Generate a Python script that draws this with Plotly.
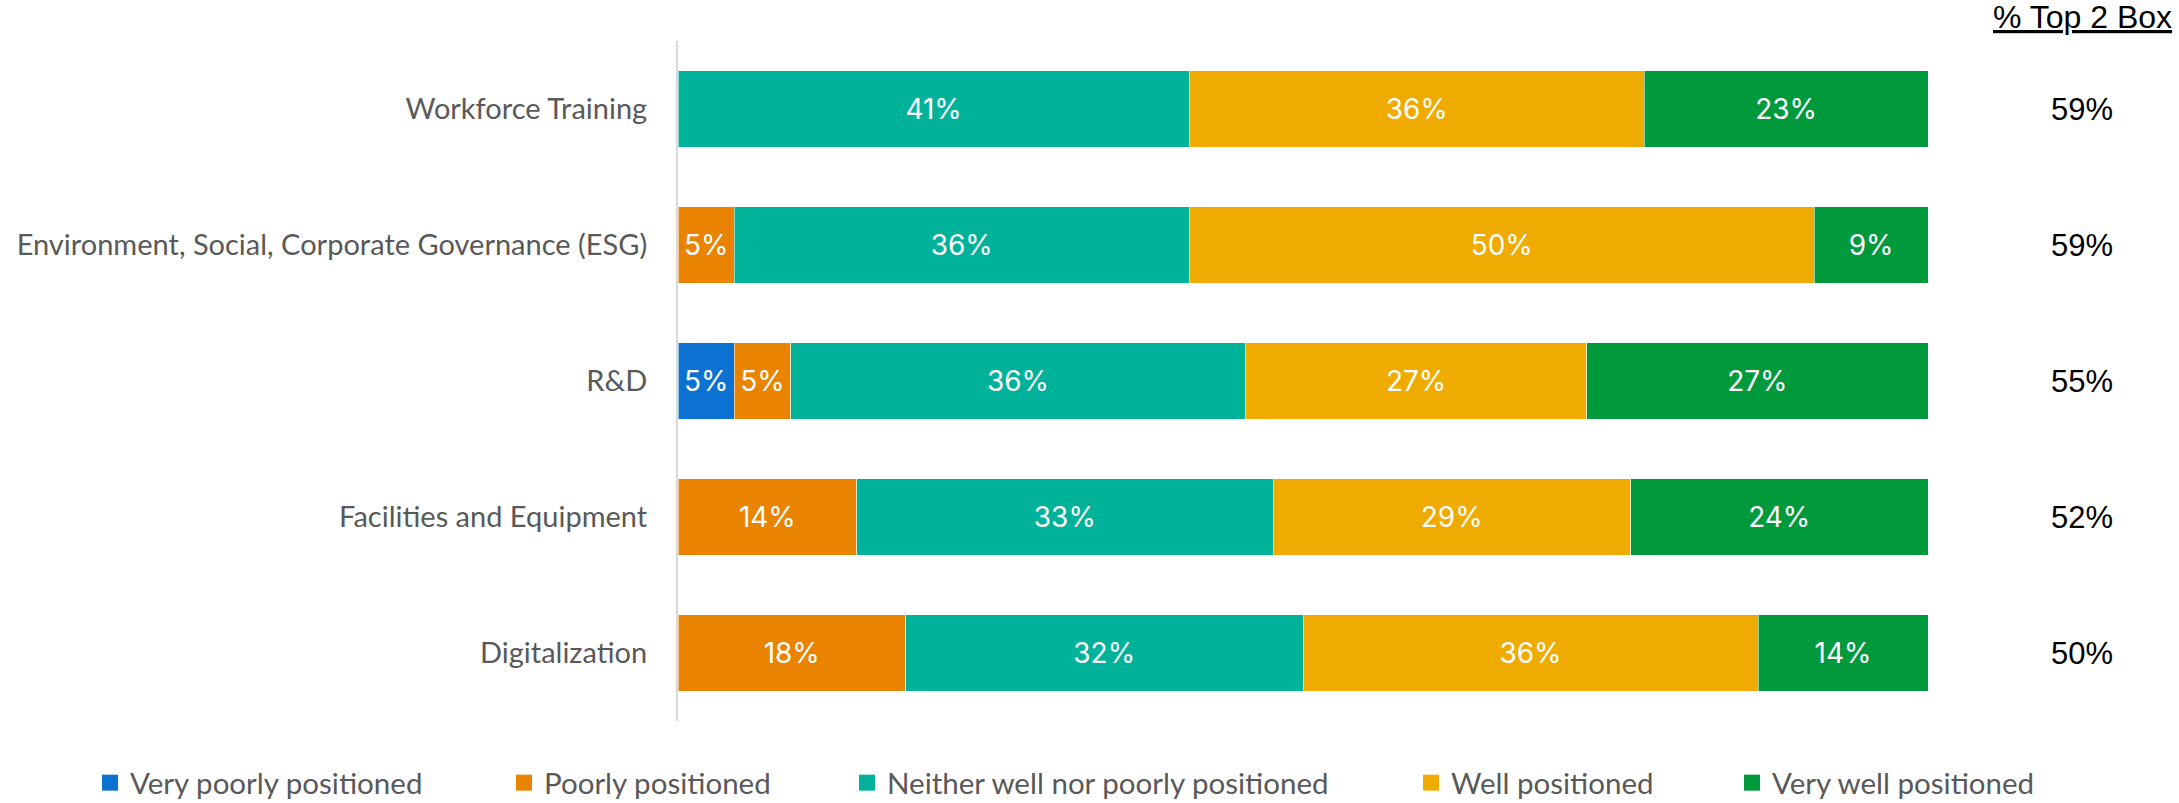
import plotly.graph_objects as go

categories = ["Workforce Training",
              "Environment, Social, Corporate Governance (ESG)",
              "R&D",
              "Facilities and Equipment",
              "Digitalization"]

very_poorly = [None, None, 4.5, None, None]
poorly = [None, 4.5, 4.5, 14.3, 18.2]
neither = [40.9, 36.4, 36.4, 33.3, 31.8]
well = [36.4, 50.0, 27.3, 28.6, 36.4]
very_well = [22.7, 9.1, 27.3, 23.8, 13.6]

top2_labels = ["59%", "59%", "55%", "52%", "50%"]

series = [
    ("Very poorly positioned", very_poorly, "#0B72D4"),
    ("Poorly positioned", poorly, "#EA8300"),
    ("Neither well nor poorly positioned", neither, "#00B29A"),
    ("Well positioned", well, "#F0AB00"),
    ("Very well positioned", very_well, "#009A3D"),
]

# plot area geometry (pixels)
W, H = 2179, 803
L, R, T, B = 678, 251, 41, 82
PW = W - L - R
PH = H - T - B

legend_px = [90, 504, 847, 1411, 1732]

fig = go.Figure()
layout_legends = {}
for i, (name, vals, col) in enumerate(series):
    lg = "legend" if i == 0 else f"legend{i+1}"
    fig.add_trace(go.Bar(
        y=categories, x=vals, name=name, orientation="h",
        marker=dict(color=col, line=dict(color="rgba(255,255,255,0.55)", width=1)),
        texttemplate="%{x:.0f}%", textposition="inside", insidetextanchor="middle",
        textangle=0, constraintext="none",
        textfont=dict(family="Inter, Roboto, sans-serif", size=28, color="white"),
        showlegend=False, hoverinfo="skip",
    ))
    # legend entry (square swatch)
    fig.add_trace(go.Scatter(
        x=[None], y=[None], mode="markers", name=name,
        marker=dict(symbol="square", size=16, color=col),
        legend=lg, hoverinfo="skip", showlegend=True,
    ))
    layout_legends[lg] = dict(
        orientation="h", x=(legend_px[i] - L) / PW, xanchor="left",
        y=(T + PH - 809) / PH, yanchor="bottom",
        font=dict(family="Lato, sans-serif", size=29.5, color="#595959"),
        bgcolor="rgba(0,0,0,0)", borderwidth=0,
    )

annotations = [dict(
    text="<u>% Top 2 Box</u>", xref="paper", yref="paper",
    x=(2082 - L) / PW, y=(T + PH - 17) / PH, xanchor="center", yanchor="middle",
    showarrow=False, font=dict(family="Liberation Sans, Arial, sans-serif", size=32, color="#000000"),
)]
for cat, lab in zip(categories, top2_labels):
    annotations.append(dict(
        text=lab, xref="paper", yref="y", x=(2082 - L) / PW, y=cat,
        xanchor="center", yanchor="middle", showarrow=False,
        font=dict(family="Liberation Sans, Arial, sans-serif", size=31, color="#000000"),
    ))

fig.update_layout(
    width=W, height=H,
    margin=dict(l=L, r=R, t=T, b=B, pad=0, autoexpand=False),
    barmode="stack", bargap=0.44,
    plot_bgcolor="white", paper_bgcolor="white",
    showlegend=True,
    annotations=annotations,
    xaxis=dict(range=[0, 100], visible=False, fixedrange=True),
    yaxis=dict(autorange="reversed", showline=True, linecolor="#D9D9D9", linewidth=2,
               showgrid=False, zeroline=False, ticks="", ticklabelstandoff=23,
               automargin=False,
               tickfont=dict(family="Lato, sans-serif", size=29, color="#595959")),
    **layout_legends,
)

fig.write_html("out.html", config={"displayModeBar": False},
               post_script="document.body.style.margin='0';document.body.style.overflow='hidden';")
